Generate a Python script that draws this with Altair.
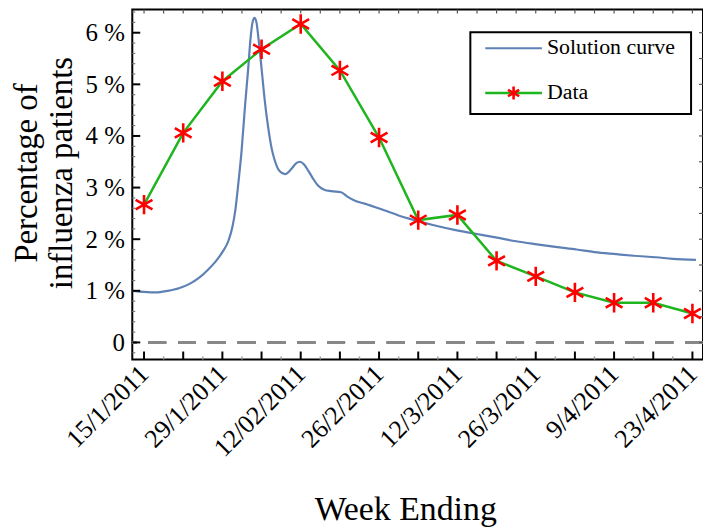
import altair as alt
import pandas as pd

# ---------------- data ----------------
week_idx = list(range(15))
data_pct = [2.67, 4.06, 5.06, 5.68, 6.17, 5.27, 3.97, 2.37, 2.47, 1.58, 1.28, 0.97, 0.77, 0.77, 0.56]

curve_w = [-0.30, 0.0, 0.30, 0.6, 0.89, 1.15, 1.40, 1.62, 1.82, 2.0, 2.16, 2.26, 2.33, 2.41,
           2.49, 2.58, 2.66, 2.72, 2.77, 2.82, 2.87, 2.92, 3.00, 3.08, 3.17, 3.26, 3.34, 3.46,
           3.60, 3.76, 3.88, 3.98, 4.08, 4.19, 4.31, 4.44, 4.60, 4.78, 5.03, 5.20, 5.40, 5.63,
           6.13, 6.50, 6.90, 7.40, 7.99, 8.50, 9.01, 9.50, 10.03, 10.50, 11.04, 11.50, 12.06,
           12.50, 13.07, 13.50, 14.09]
curve_y = [1.00, 0.98, 0.97, 1.00, 1.05, 1.13, 1.25, 1.40, 1.56, 1.75, 1.98, 2.25, 2.56, 3.10,
           3.71, 4.60, 5.31, 5.90, 6.20, 6.29, 6.20, 5.90, 5.31, 4.70, 4.16, 3.75, 3.52, 3.32,
           3.26, 3.36, 3.47, 3.50, 3.45, 3.33, 3.18, 3.04, 2.96, 2.93, 2.91, 2.82, 2.74, 2.69,
           2.56, 2.46, 2.37, 2.27, 2.17, 2.10, 2.03, 1.96, 1.90, 1.85, 1.80, 1.75, 1.71,
           1.68, 1.65, 1.62, 1.60]

label_weeks = [0, 2, 4, 6, 8, 10, 12, 14]
label_texts = ["15/1/2011", "29/1/2011", "12/02/2011", "26/2/2011",
               "12/3/2011", "26/3/2011", "9/4/2011", "23/4/2011"]
y_tick_vals = [0, 1, 2, 3, 4, 5, 6]
x_title = "Week Ending"
y_title = ["Percentage of", "influenza patients"]

W, H = 574, 352
FONT = "Liberation Serif"

xscale = alt.Scale(domain=[-0.3, 14.27], nice=False, zero=False)
yscale = alt.Scale(domain=[-0.33, 6.45], nice=False, zero=False)

label_map = "{" + ",".join(f"'{w}':'{t}'" for w, t in zip(label_weeks, label_texts)) + "}"

x_axis = alt.Axis(values=label_weeks, labelExpr=f"{label_map}[datum.value]",
                  labelAngle=-45, labelAlign="right", labelBaseline="middle",
                  labelPadding=10, labelFontSize=26, labelFont=FONT, labelColor="black",
                  labelOverlap=False, labelFlush=False,
                  ticks=False, domain=False, grid=False, title=None)
y_axis = alt.Axis(values=y_tick_vals,
                  labelExpr="datum.value == 0 ? '0' : datum.value + ' %'",
                  labelPadding=8, labelFontSize=25, labelFont=FONT, labelColor="black",
                  labelOverlap=False, labelFlush=False,
                  ticks=False, domain=False, grid=False,
                  title=y_title, titleFont=FONT,
                  titleFontSize=33, titleFontWeight="normal", titleColor="black",
                  titleLineHeight=35, titleAngle=-90, titleAlign="center",
                  titleBaseline="alphabetic", titleX=-96, titleY=164)

curve_df = pd.DataFrame({"w": curve_w, "y": curve_y})
data_df = pd.DataFrame({"w": week_idx, "y": data_pct})

X = alt.X("w:Q", scale=xscale, axis=x_axis)
Y = alt.Y("y:Q", scale=yscale, axis=y_axis)

base_curve = alt.Chart(curve_df).mark_line(color="#5E81B5", strokeWidth=2.2,
                                            interpolate="monotone").encode(x=X, y=Y)
zero_line = alt.Chart(data_df).mark_rule(color="#888888", strokeWidth=2,
                                         strokeDash=[18, 12]).encode(y=alt.datum(0, scale=yscale))
data_line = alt.Chart(data_df).mark_line(color="#1FB51F", strokeWidth=2.5).encode(
    x=alt.X("w:Q", scale=xscale), y=alt.Y("y:Q", scale=yscale))
star = "M0,-1L0,1M-0.866,-0.5L0.866,0.5M-0.866,0.5L0.866,-0.5"
data_pts = alt.Chart(data_df).mark_point(shape=star, size=380, filled=False,
                                         color="#FF0000", strokeWidth=2.6, opacity=1).encode(
    x=alt.X("w:Q", scale=xscale), y=alt.Y("y:Q", scale=yscale))

# frame ticks (inward)
bx_major = pd.DataFrame({"w": week_idx})
bx_minor = pd.DataFrame({"w": [i + 0.5 for i in range(-1, 15) if -0.3 < i + 0.5 < 14.27]})
top_t = pd.DataFrame({"w": [i * 0.5 for i in range(0, 29)]})
ly_major = pd.DataFrame({"y": y_tick_vals})
ly_minor = pd.DataFrame({"y": [round(i * 0.2, 1) for i in range(-1, 33) if i % 5 != 0]})
ry = pd.DataFrame({"y": [i * 0.5 for i in range(0, 13)]})

t_bmaj = alt.Chart(bx_major).mark_rule(color="black", strokeWidth=2).encode(
    x=alt.X("w:Q", scale=xscale), y=alt.value(H), y2=alt.value(H - 8))
t_bmin = alt.Chart(bx_minor).mark_rule(color="#999999", strokeWidth=1.5).encode(
    x=alt.X("w:Q", scale=xscale), y=alt.value(H), y2=alt.value(H - 3))
t_top = alt.Chart(top_t).mark_rule(color="#555555", strokeWidth=1.2).encode(
    x=alt.X("w:Q", scale=xscale), y=alt.value(0), y2=alt.value(4))
t_lmaj = alt.Chart(ly_major).mark_rule(color="black", strokeWidth=2).encode(
    y=alt.Y("y:Q", scale=yscale), x=alt.value(0), x2=alt.value(8))
t_lmin = alt.Chart(ly_minor).mark_rule(color="#777777", strokeWidth=1.2).encode(
    y=alt.Y("y:Q", scale=yscale), x=alt.value(0), x2=alt.value(3))
t_r = alt.Chart(ry).mark_rule(color="#555555", strokeWidth=1.2).encode(
    y=alt.Y("y:Q", scale=yscale), x=alt.value(W), x2=alt.value(W - 4))

# legend and x title
leg = pd.DataFrame({"k": [0]})
leg_box = alt.Chart(leg).mark_rect(fill="white", stroke="black", strokeWidth=2).encode(
    x=alt.value(340), x2=alt.value(562), y=alt.value(23), y2=alt.value(105))
leg_l1 = alt.Chart(leg).mark_rule(color="#5E81B5", strokeWidth=2.2).encode(
    x=alt.value(355), x2=alt.value(412), y=alt.value(39))
leg_l2 = alt.Chart(leg).mark_rule(color="#1FB51F", strokeWidth=2.5).encode(
    x=alt.value(355), x2=alt.value(412), y=alt.value(84))
leg_star = alt.Chart(leg).mark_point(shape=star, size=170, filled=False, color="#FF0000",
                                     strokeWidth=2.6, opacity=1).encode(
    x=alt.value(383.5), y=alt.value(84))
leg_t1 = alt.Chart(leg).mark_text(text="Solution curve", font=FONT, fontSize=22, align="left",
                                  baseline="middle", color="black").encode(
    x=alt.value(417), y=alt.value(38))
leg_t2 = alt.Chart(leg).mark_text(text="Data", font=FONT, fontSize=22, align="left",
                                  baseline="middle", color="black").encode(
    x=alt.value(417), y=alt.value(83))
x_title_mark = alt.Chart(leg).mark_text(text=x_title, font=FONT, fontSize=34, align="center",
                                        baseline="alphabetic", color="black").encode(
    x=alt.value(W / 2 - 12), y=alt.value(H + 161))

chart = alt.layer(
    base_curve, zero_line, t_bmaj, t_bmin, t_top, t_lmaj, t_lmin, t_r,
    data_line, data_pts,
    leg_box, leg_l1, leg_l2, leg_star, leg_t1, leg_t2, x_title_mark,
).properties(
    width=W, height=H,
    autosize=alt.AutoSizeParams(type="none"),
    padding={"left": 125, "top": 0, "right": 0, "bottom": 168},
).configure(font=FONT).configure_axis(
    titleFont=FONT, labelFont=FONT
).configure_view(stroke="black", strokeWidth=2)

chart.save("out.html", embed_options={"renderer": "svg", "actions": False})
